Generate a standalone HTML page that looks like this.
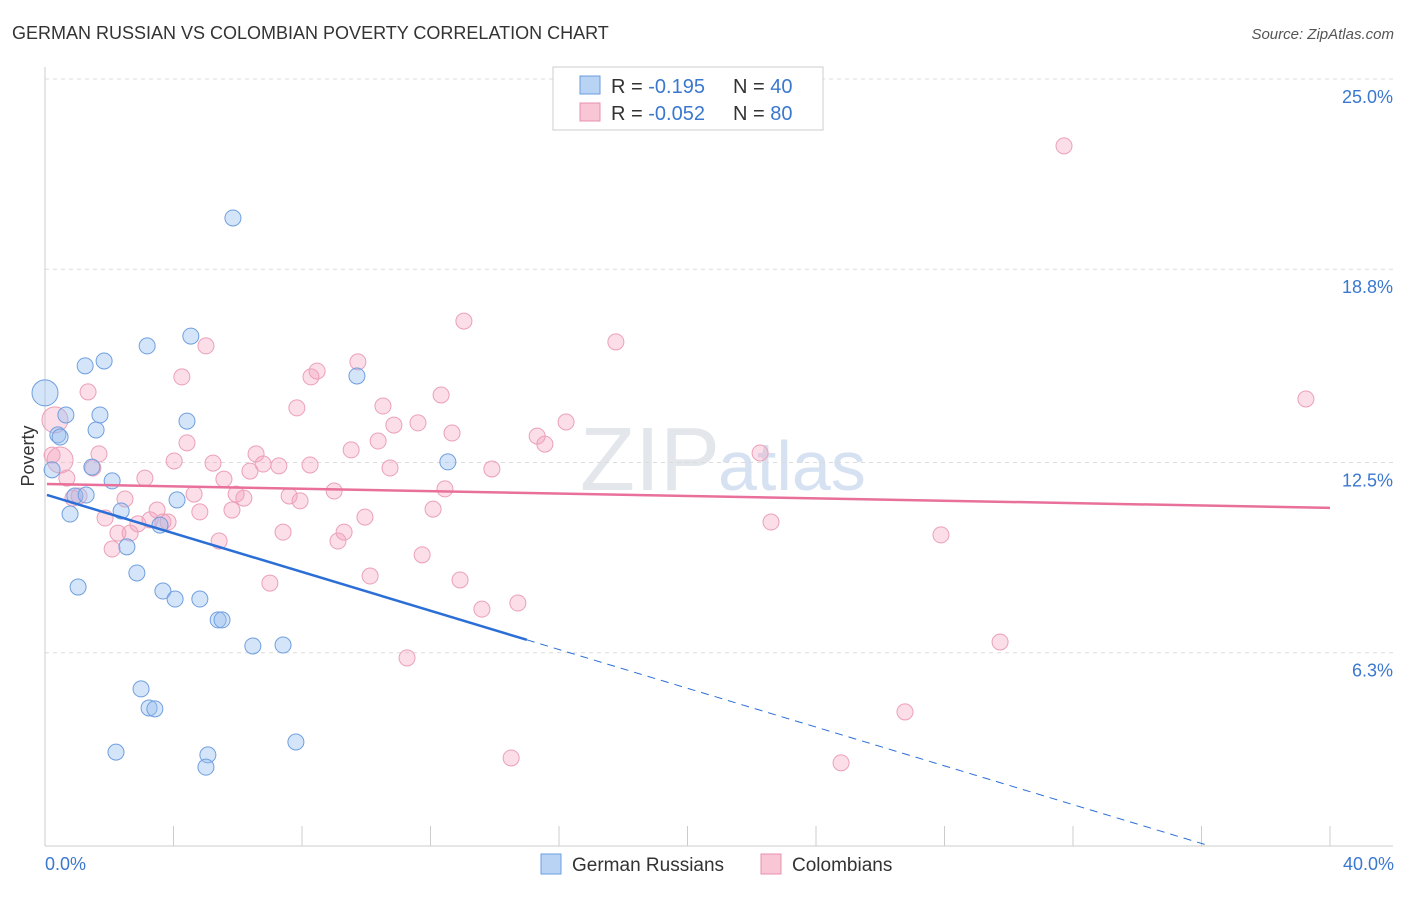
<!DOCTYPE html>
<html><head><meta charset="utf-8"><style>
body{margin:0;background:#fff;font-family:"Liberation Sans",sans-serif}
svg text{font-family:"Liberation Sans",sans-serif}
</style></head><body>
<svg id="c" width="1406" height="892" xmlns="http://www.w3.org/2000/svg">
<text x="12" y="39" font-size="18" fill="#333">GERMAN RUSSIAN VS COLOMBIAN POVERTY CORRELATION CHART</text>
<text x="1394" y="39" font-size="15" fill="#555" font-style="italic" text-anchor="end">Source: ZipAtlas.com</text>
<text x="720" y="490" font-size="90" fill="#e3e6ea" text-anchor="end" font-family="Liberation Serif">ZIP</text>
<text x="718" y="490" font-size="70" fill="#d6e2f2">atlas</text>
<g id="grid"></g><g id="axes"></g><g id="pts"></g><g id="lines"></g>
<text x="34" y="456" font-size="18" fill="#333" transform="rotate(-90 34 456)" text-anchor="middle">Poverty</text>
<text x="45" y="870" font-size="18" fill="#3a78d0">0.0%</text>
<text x="1394" y="870" font-size="18" fill="#3a78d0" text-anchor="end">40.0%</text>
<g>
<rect x="553" y="67" width="270" height="63" fill="#fff" stroke="#ccc"/>
<rect x="580" y="76" width="20" height="18" fill="#b9d3f5" stroke="#6a9ce0"/>
<rect x="580" y="103" width="20" height="18" fill="#f9c6d5" stroke="#e890ad"/>
<text x="611" y="93" font-size="20" fill="#333">R = <tspan fill="#3a78d0">-0.195</tspan><tspan x="733">N = </tspan><tspan fill="#3a78d0">40</tspan></text>
<text x="611" y="120" font-size="20" fill="#333">R = <tspan fill="#3a78d0">-0.052</tspan><tspan x="733">N = </tspan><tspan fill="#3a78d0">80</tspan></text>
</g>
<g>
<rect x="541" y="854" width="20" height="20" fill="#b9d3f5" stroke="#6a9ce0"/>
<text x="572" y="871" font-size="19" fill="#333">German Russians</text>
<rect x="761" y="854" width="20" height="20" fill="#f9c6d5" stroke="#e890ad"/>
<text x="792" y="871" font-size="19" fill="#333">Colombians</text>
</g>
</svg>
<script>
const yTicks=[25.0,18.8,12.5,6.3];
const yTickLabels=["25.0%","18.8%","12.5%","6.3%"];
const xTicks=[0,4,8,12,16,20,24,28,32,36,40];
const blueX=[0,.65,.40,.47,.22,1.25,1.84,1.71,1.59,1.46,2.09,.93,1.28,.78,2.37,3.18,4.54,4.42,2.55,3.58,4.11,1.03,2.86,3.67,4.05,4.82,5.39,5.51,6.47,7.41,9.71,12.54,5.85,2.99,3.24,3.42,2.21,5.07,5.01,7.81];
const blueY=[14.77,14.05,13.40,13.33,12.26,15.65,15.81,14.05,13.56,12.35,11.90,11.41,11.44,10.82,10.92,16.30,16.62,13.85,9.75,10.46,11.28,8.44,8.90,8.31,8.05,8.05,7.37,7.37,6.52,6.55,15.32,12.52,20.47,5.12,4.50,4.47,3.06,2.97,2.57,3.39];
const pinkX=[.31,.47,.22,1.34,.68,1.68,1.49,.87,1.06,1.87,2.09,2.49,2.27,2.65,2.89,3.11,3.27,3.49,3.67,3.83,4.02,4.26,4.42,5.01,4.64,4.82,5.23,5.42,5.57,5.82,5.95,6.19,6.38,6.57,6.79,7.00,7.28,7.41,7.60,7.84,7.94,8.28,8.47,8.25,9.00,9.12,9.31,9.53,9.74,9.96,10.12,10.37,10.52,10.74,10.86,11.27,11.61,11.74,12.08,12.33,12.45,12.67,12.92,13.04,13.60,13.91,14.51,14.72,15.32,15.56,16.22,17.77,22.26,22.60,24.78,26.77,27.89,29.73,31.72,39.25];
const pinkY=[13.89,12.58,12.74,14.80,11.99,12.78,12.32,11.34,11.41,10.69,9.68,11.31,10.20,10.20,10.50,11.99,10.63,10.95,10.56,10.56,12.55,15.29,13.14,16.30,11.47,10.89,12.48,9.94,11.96,10.95,11.47,11.34,12.22,12.78,12.45,8.57,12.39,10.23,11.41,14.28,11.25,15.29,15.48,12.42,11.57,9.94,10.23,12.91,15.78,10.72,8.80,13.20,14.34,12.32,13.72,6.13,13.79,9.49,10.98,14.70,11.64,13.46,8.67,17.11,7.72,12.29,2.87,7.92,13.36,13.10,13.82,16.43,12.81,10.56,2.71,4.37,10.14,6.65,22.82,14.57];
const bigBlue=[0];const bigPink=[0,1];
const blueTrend=[11.46,-0.316];const blueSolidEnd=15.0;
const pinkTrend=[11.8,-0.0195];
const NS="http://www.w3.org/2000/svg";
function X(v){return 45+v*32.125;}
function Y(v){return 846-v*30.68;}
function mk(tag,attrs,parent){const e=document.createElementNS(NS,tag);for(const k in attrs)e.setAttribute(k,attrs[k]);document.getElementById(parent).appendChild(e);return e;}
yTicks.forEach((t,i)=>{
 const l=mk('line',{x1:45,x2:1393,y1:Y(t),y2:Y(t),stroke:'#dcdcdc','stroke-dasharray':'4,4'},'grid');
 
 
 const tx=mk('text',{x:1393,y:Y(t)+24,'font-size':18,fill:'#3a78d0','text-anchor':'end'},'grid');
 tx.textContent=yTickLabels[i];
 
 
});
let a=mk('line',{x1:45,x2:45,y1:67,y2:846,stroke:'#ccc'},'axes');


a=mk('line',{x1:45,x2:1393,y1:846,y2:846,stroke:'#ccc'},'axes');


xTicks.forEach(t=>{
 const l=mk('line',{x1:X(t),x2:X(t),y1:826,y2:846,stroke:'#ccc'},'axes');
 
 
});
pinkX.forEach((v,i)=>{
 const c=mk('circle',{cx:X(v),cy:Y(pinkY[i]),r:bigPink.includes(i)?13:8,fill:'rgba(244,160,188,0.35)',stroke:'#eba0b9','stroke-width':1},'pts');
 
 
});
blueX.forEach((v,i)=>{
 const c=mk('circle',{cx:X(v),cy:Y(blueY[i]),r:bigBlue.includes(i)?13:8,fill:'rgba(150,190,240,0.4)',stroke:'#6f9fdf','stroke-width':1},'pts');
 
 
});
const bt=x=>blueTrend[0]+blueTrend[1]*x, pt=x=>pinkTrend[0]+pinkTrend[1]*x;
let ln=mk('line',{x1:X(0.06),y1:Y(bt(0.06)),x2:X(blueSolidEnd),y2:Y(bt(blueSolidEnd)),stroke:'#2b6fd6','stroke-width':2.5},'lines');


const xEnd=-blueTrend[0]/blueTrend[1];
ln=mk('line',{x1:X(blueSolidEnd),y1:Y(bt(blueSolidEnd)),x2:X(xEnd),y2:Y(0),stroke:'#2b6fd6','stroke-width':1,'stroke-dasharray':'8,6'},'lines');


ln=mk('line',{x1:X(0.06),y1:Y(pt(0.06)),x2:X(40),y2:Y(pt(40)),stroke:'#e8709a','stroke-width':2.5},'lines');


</script>
</body></html>
